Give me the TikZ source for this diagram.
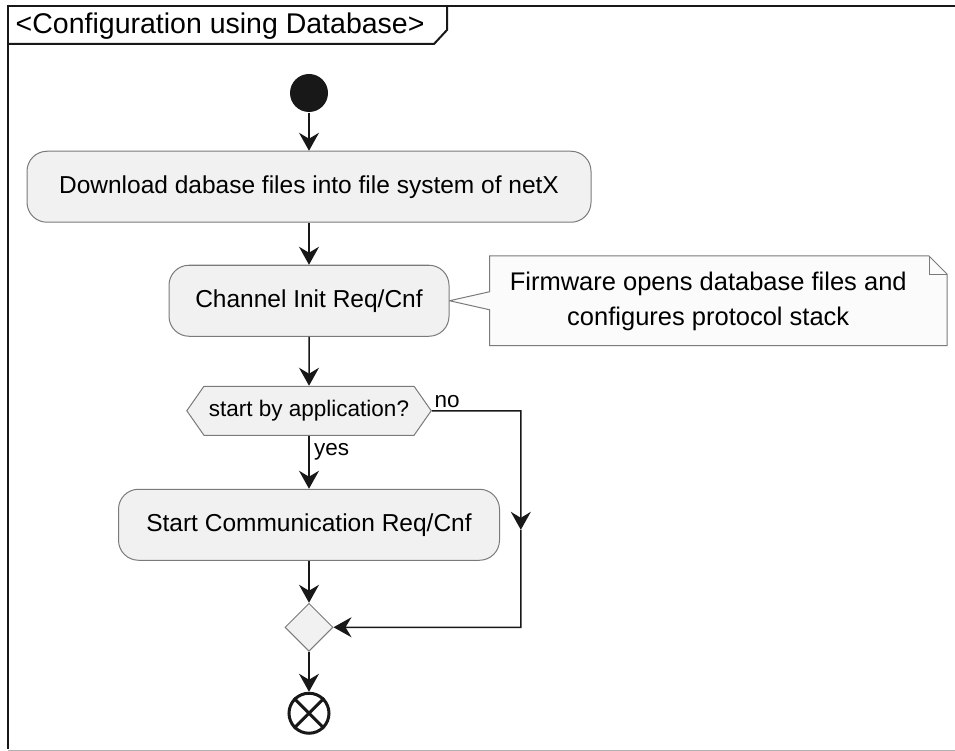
\documentclass[tikz,border=0pt]{standalone}
\usepackage{fontspec}
\setmainfont{Liberation Sans}
\usetikzlibrary{positioning,shapes.geometric,shapes.symbols,arrows.meta,calc,backgrounds}
\definecolor{ink}{HTML}{181818}
\definecolor{actfill}{HTML}{F1F1F1}
\definecolor{actline}{HTML}{7A7A7A}
\definecolor{notefill}{HTML}{FBFBFB}
\newcommand{\acttext}{\fontsize{24.5}{29}\selectfont}
\newcommand{\smalltext}{\fontsize{22.5}{27}\selectfont}

\begin{document}
\begin{tikzpicture}[x=1pt,y=-1pt,line width=1.5pt,draw=ink,
		>={Stealth[length=18pt,width=20pt,inset=6pt]},
		action/.style={rounded corners=20pt,draw=actline,line width=1pt,fill=actfill,minimum height=71pt,font=\acttext},
		question/.style={signal,signal to=west and east,signal pointer angle=110,draw=actline,line width=1pt,fill=actfill,minimum height=49pt,inner xsep=5pt,font=\smalltext}]
		\useasboundingbox (0,0) rectangle (955,751);
		
		% frame and title tab
		\draw[line width=2pt] (955,6) -- (8,6) -- (8,749);
		\draw[line width=1pt,gray!60] (8,750) -- (955,750);
		\node[anchor=west,inner sep=0pt,font=\fontsize{28.5}{33}\selectfont] (title) at (15,26) {<Configuration using Database>};
		\draw[line width=2pt] (8,44) -- (434,44) -- (447,30) -- (447,6);
		
		\node[circle,fill=ink,minimum size=38pt,inner sep=0pt] (start) at (309,93) {};
		\node[action,minimum width=564pt,below=38pt of start] (dl) {Download dabase files into file system of netX};
		\node[action,minimum width=280pt,below=42pt of dl] (init) {Channel Init Req/Cnf};
		\node[minimum width=456pt,minimum height=88pt,inner sep=0pt,right=40pt of init,font=\fontsize{25.5}{35}\selectfont] (fw)
			{\begin{tabular}{@{}c@{\hspace{20pt}}}Firmware opens database files and\\configures protocol stack\end{tabular}};
		\node[question,below=49pt of init] (q) {start by application?};
		\node[action,minimum width=381pt,below=53pt of q] (comm) {Start Communication Req/Cnf};
		\node[diamond,draw=actline,fill=actfill,line width=1pt,minimum size=48pt,inner sep=0pt,below=42pt of comm] (merge) {};
		\node[circle,draw=ink,line width=3pt,minimum size=40pt,inner sep=0pt,below=40pt of merge] (stop) {};
		\draw[line width=3pt] (stop.north west) -- (stop.south east) (stop.north east) -- (stop.south west);
		
		% note outline with its pointer
		\begin{scope}[on background layer]
		\filldraw[draw=actline,fill=notefill,line width=1pt] (fw.south west) -- ([yshift=-9pt]fw.west) -- (init.east) -- ([yshift=9pt]fw.west)
			-- (fw.north west) -- ([xshift=-18pt]fw.north east) -- ([yshift=-18pt]fw.north east) -- (fw.south east) -- cycle;
		\draw[actline,line width=1pt] ([xshift=-18pt]fw.north east) -- ([xshift=-18pt,yshift=-18pt]fw.north east) -- ([yshift=-18pt]fw.north east);
		\end{scope}
		
		\coordinate (nocorner) at ([xshift=89pt]q.east);
		\coordinate (nobend) at (nocorner |- merge.east);
		\coordinate (nomid) at ($(nocorner)!0.55!(nobend)$);
		
		\draw[->] (start) -- (dl);
		\draw[->] (dl) -- (init);
		\draw[->] (init) -- (q);
		\draw[->] (q) -- node[pos=0.3,right=1pt,font=\smalltext] {yes} (comm);
		\draw[->] (comm) -- (merge);
		\draw[->] (merge) -- (stop);
		\draw[->] (q.east) -- node[pos=0,anchor=south west,inner sep=2pt,font=\smalltext] {no} (nocorner) -- (nomid);
		\draw[->] (nomid) -- (nobend) -- (merge.east);
	\end{tikzpicture}
\end{document}
